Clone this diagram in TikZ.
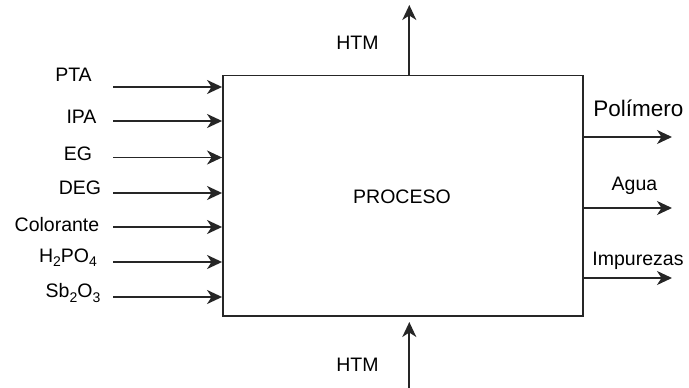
\documentclass[tikz,border=0pt]{standalone}
\usepackage{fontspec}
\setmainfont{Liberation Sans}
\usetikzlibrary{arrows.meta}
\newcommand{\sbx}[1]{\raisebox{-4.5pt}{\fontsize{14}{14}\selectfont #1}}
\begin{document}
\begin{tikzpicture}[x=1pt,y=-1pt,
  arr/.style={line width=1.9pt, draw=black!85, -{Stealth[length=15pt,width=14pt,inset=4.5pt]}},
  lbl/.style={anchor=base, inner sep=0pt, font=\fontsize{19.5}{23}\selectfont},
  big/.style={anchor=base, inner sep=0pt, font=\fontsize{22.5}{26}\selectfont},
  procbox/.style={draw=black!85, line width=1.9pt, minimum width=360pt, minimum height=240.5pt, inner sep=0pt}]
\useasboundingbox (0,0) rectangle (689,388);
\node[procbox] (proc) at (403,195.75) {};
\node[lbl] (ptxt) at (402,203) {PROCESO};
% left inputs
\node[lbl] (l1) at (73.5,81) {PTA};
\node[lbl] (l2) at (81.5,123.5) {IPA};
\node[lbl] (l3) at (78,160) {EG};
\node[lbl] (l4) at (80,194) {DEG};
\node[lbl] (l5) at (57,231.5) {Colorante};
\node[lbl] (l6) at (68,262) {H\sbx{2}PO\sbx{4}};
\node[lbl] (l7) at (73,297.5) {Sb\sbx{2}O\sbx{3}};
\coordinate (s1) at (113,87);
\coordinate (s2) at (113,121);
\coordinate (s3) at (113,157.5);
\coordinate (s4) at (113,193);
\coordinate (s5) at (113,227);
\coordinate (s6) at (113,262);
\coordinate (s7) at (113,297);
\foreach \i in {1,...,7} \draw[arr] (s\i) -- (s\i -| proc.west);
% right outputs
\node[big] (r1) at (638.3,116) {Polímero};
\node[lbl] (r2) at (634.5,190) {Agua};
\node[lbl] (r3) at (638,265) {Impurezas};
\coordinate (e1) at (672,137);
\coordinate (e2) at (672,208);
\coordinate (e3) at (672,278);
\foreach \i in {1,2,3} \draw[arr] (e\i -| proc.east) -- (e\i);
% top / bottom
\node[lbl] (htop) at (357.5,49) {HTM};
\node[lbl] (hbot) at (357.5,371) {HTM};
\coordinate (ttip) at (409.3,5);
\coordinate (bstart) at (409.3,388);
\coordinate (btip) at (409.3,322);
\draw[arr] (ttip |- proc.north) -- (ttip);
\draw[arr] (bstart) -- (btip);
\end{tikzpicture}
\end{document}
